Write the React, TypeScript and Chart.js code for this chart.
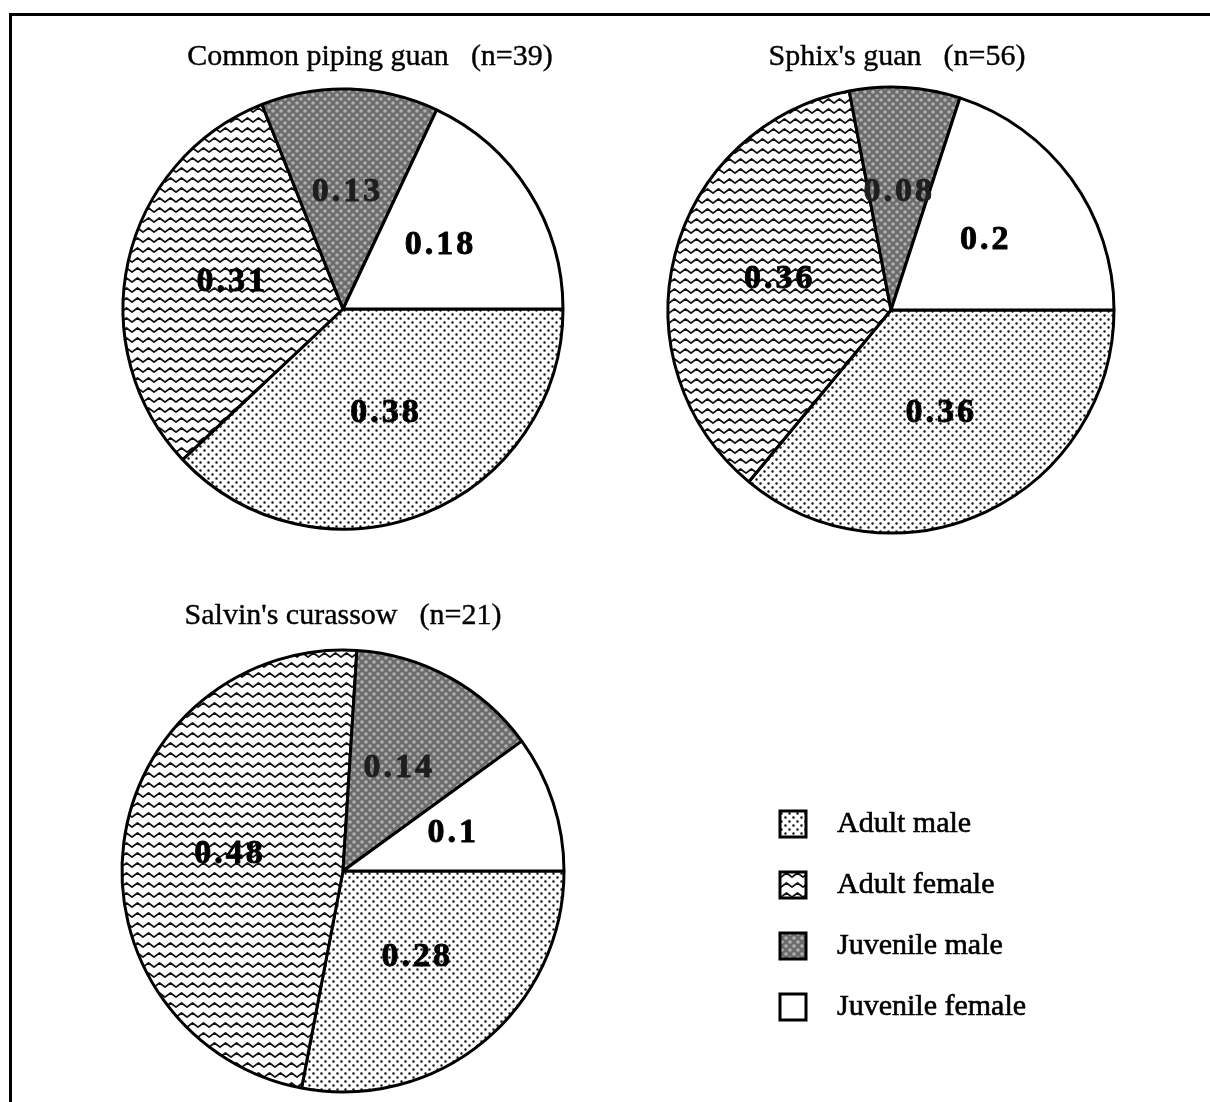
import React, { useEffect, useRef } from "react";
import { Chart, registerables } from "chart.js";

Chart.register(...registerables);

// ---------- data ----------
const categories = ["Adult male", "Adult female", "Juvenile male", "Juvenile female"];
const speciesNames = ["Common piping guan", "Sphix's guan", "Salvin's curassow"];
const sampleSizes = ["(n=39)", "(n=56)", "(n=21)"];
const commonPipingGuan = [0.38, 0.31, 0.13, 0.18];
const sphixsGuan = [0.36, 0.36, 0.08, 0.2];
const salvinsCurassow = [0.28, 0.48, 0.14, 0.1];

// ---------- patterns ----------
function tile(w: number, h: number, draw: (c: CanvasRenderingContext2D) => void) {
  const c = document.createElement("canvas");
  c.width = w;
  c.height = h;
  const x = c.getContext("2d")!;
  draw(x);
  return x.createPattern(c, "repeat")!;
}

function makePatterns() {
  const dots = tile(8, 8, (c) => {
    c.fillStyle = "#fff";
    c.fillRect(0, 0, 8, 8);
    c.fillStyle = "#111";
    c.beginPath();
    c.arc(1.5, 1.5, 1.25, 0, Math.PI * 2);
    c.arc(5.5, 5.5, 1.25, 0, Math.PI * 2);
    c.fill();
  });
  const zigzag = tile(11, 10, (c) => {
    c.fillStyle = "#fff";
    c.fillRect(0, 0, 11, 10);
    c.strokeStyle = "#111";
    c.lineWidth = 1.8;
    c.lineJoin = "round";
    c.beginPath();
    c.moveTo(-5.5, 3);
    c.lineTo(0, 7);
    c.lineTo(5.5, 3);
    c.lineTo(11, 7);
    c.lineTo(16.5, 3);
    c.stroke();
  });
  const gray = tile(8, 8, (c) => {
    c.fillStyle = "#6c6c6c";
    c.fillRect(0, 0, 8, 8);
    c.fillStyle = "#b0b0b0";
    c.beginPath();
    c.arc(2, 2, 1.8, 0, Math.PI * 2);
    c.fill();
    c.beginPath();
    c.arc(6, 6, 1.8, 0, Math.PI * 2);
    c.fill();
  });
  return [dots, zigzag, gray, "#ffffff"] as (CanvasPattern | string)[];
}

// ---------- plugins ----------
const sliceLabels = {
  id: "sliceLabels",
  afterDatasetsDraw(chart: any) {
    const ctx = chart.ctx as CanvasRenderingContext2D;
    const meta = chart.getDatasetMeta(0);
    const data = chart.data.datasets[0].data as number[];
    ctx.save();
    ctx.font = 'bold 34px "Liberation Serif"';
    (ctx as any).letterSpacing = "3px";
    ctx.textAlign = "center";
    ctx.textBaseline = "middle";
    ctx.lineWidth = 0.9;
    ctx.lineJoin = "round";
    meta.data.forEach((arc: any, i: number) => {
      const p = arc.getProps(["x", "y", "startAngle", "endAngle", "outerRadius"], true);
      const a = (p.startAngle + p.endAngle) / 2;
      const d = p.outerRadius * 0.52;
      const col = i === 2 ? "#1e1e1e" : "#000";
      ctx.fillStyle = col;
      ctx.strokeStyle = col;
      const tx = p.x + Math.cos(a) * d + 1;
      const ty = p.y + Math.sin(a) * d - 2;
      ctx.fillText(String(data[i]), tx, ty);
      ctx.strokeText(String(data[i]), tx, ty);
    });
    ctx.restore();
  },
};

const legendDrawer = {
  id: "legendDrawer",
  afterDraw(chart: any) {
    const ctx = chart.ctx as CanvasRenderingContext2D;
    const fills = chart.data.datasets[0].backgroundColor as (CanvasPattern | string)[];
    const labels = chart.data.labels as string[];
    ctx.save();
    ctx.font = '30px "Liberation Serif"';
    ctx.textBaseline = "alphabetic";
    ctx.textAlign = "left";
    labels.forEach((lab, i) => {
      const cy = 224 + i * 61;
      ctx.fillStyle = fills[i] as any;
      ctx.fillRect(780, cy - 13, 26, 26);
      ctx.strokeStyle = "#000";
      ctx.lineWidth = 3;
      ctx.strokeRect(780, cy - 13, 26, 26);
      ctx.fillStyle = "#000";
      ctx.lineWidth = 0.6;
      ctx.fillText(lab, 837, cy + 8);
      ctx.strokeText(lab, 837, cy + 8);
    });
    ctx.restore();
  },
};

type PieProps = {
  values: number[];
  left: number;
  top: number;
  width: number;
  height: number;
  radius: number;
  padding?: { left: number; right: number; top: number; bottom: number };
  withLegend?: boolean;
};

function Pie({ values, left, top, width, height, radius, padding, withLegend }: PieProps) {
  const ref = useRef<HTMLCanvasElement>(null);
  useEffect(() => {
    const fills = makePatterns();
    const chart = new Chart(ref.current!, {
      type: "pie",
      data: {
        labels: categories,
        datasets: [
          {
            data: values,
            backgroundColor: fills as any,
            borderColor: "#000",
            borderWidth: 3,
            radius: radius,
            clip: false,
          } as any,
        ],
      },
      options: {
        responsive: false,
        animation: false,
        rotation: 90,
        events: [],
        layout: { padding: padding || 0 },
        plugins: {
          legend: { display: false },
          tooltip: { enabled: false },
          title: { display: false },
        },
      },
      plugins: withLegend ? [sliceLabels, legendDrawer] : [sliceLabels],
    });
    return () => chart.destroy();
  }, []);
  return (
    <canvas
      ref={ref}
      width={width}
      height={height}
      style={{ position: "absolute", left, top, width, height }}
    />
  );
}

function Title({ name, n, cx, top }: { name: string; n: string; cx: number; top: number }) {
  return (
    <div
      style={{
        position: "absolute",
        left: cx - 300,
        top,
        width: 600,
        textAlign: "center",
        fontFamily: '"Liberation Serif", serif',
        fontSize: 30,
        lineHeight: 1,
        color: "#000",
        whiteSpace: "pre",
        WebkitTextStroke: "0.4px #000",
      }}
    >
      {name}
      <span style={{ marginLeft: 22 }}>{n}</span>
    </div>
  );
}

export default function App() {
  return (
    <div
      style={{
        position: "absolute",
        left: 0,
        top: 0,
        width: 1210,
        height: 1102,
        overflow: "hidden",
        background: "#fff",
      }}
    >
      <div
        style={{
          position: "absolute",
          left: 9,
          top: 13,
          width: 1400,
          height: 1400,
          borderLeft: "3px solid #000",
          borderTop: "3px solid #000",
        }}
      />
      <Pie values={commonPipingGuan} left={99} top={65} width={488} height={488} radius={220} />
      <Pie values={sphixsGuan} left={647} top={66} width={488} height={488} radius={223} />
      <Pie
        values={salvinsCurassow}
        left={0}
        top={600}
        width={1210}
        height={502}
        radius={221}
        padding={{ left: 0, right: 524, top: 40, bottom: 0 }}
        withLegend
      />
      <Title name={speciesNames[0]} n={sampleSizes[0]} cx={370} top={40} />
      <Title name={speciesNames[1]} n={sampleSizes[1]} cx={897} top={40} />
      <Title name={speciesNames[2]} n={sampleSizes[2]} cx={343} top={599} />
    </div>
  );
}
